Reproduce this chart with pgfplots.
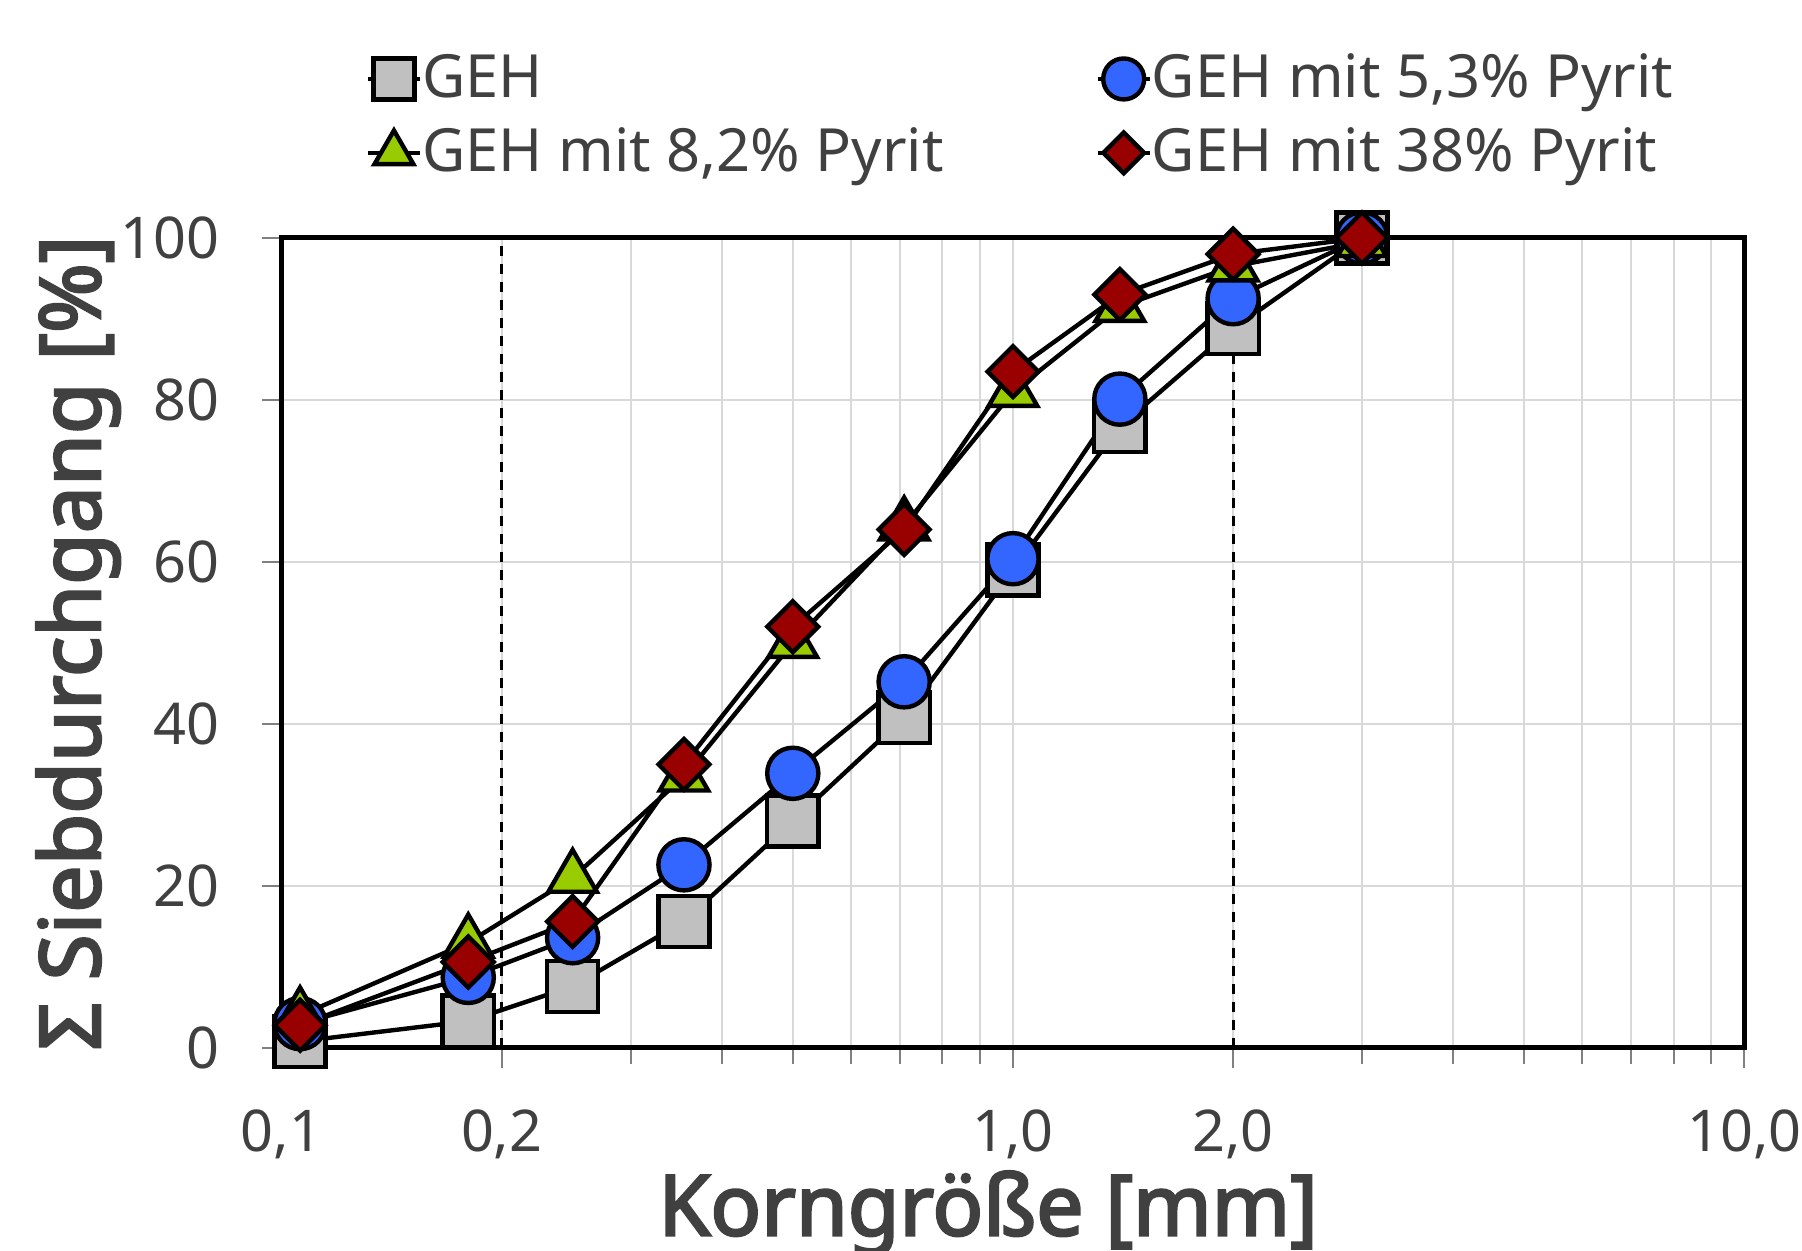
\documentclass[border=0pt]{standalone}
\usepackage{fontspec}
\setmainfont{Noto Sans}
\newfontfamily\lblfont{Noto Sans}[FakeBold=3]
\usepackage{pgfplots}
\pgfplotsset{compat=1.18}
\definecolor{txt}{HTML}{404040}
\definecolor{gehgray}{HTML}{C0C0C0}
\definecolor{gehblue}{HTML}{3366FF}
\definecolor{gehgreen}{HTML}{99CC00}
\definecolor{gehred}{HTML}{990000}
\definecolor{gridc}{HTML}{D9D9D9}
\begin{document}
\begin{tikzpicture}
\begin{axis}[
    name=ax,
    width=365.75pt, height=202.5pt, scale only axis,
    xmode=log, xmin=0.1, xmax=10, ymin=0, ymax=100,
    clip=false,
    axis line style={line width=1.25pt, black},
    xtick={0.1,0.2,1,2,10},
    xticklabels={{0,1},{0,2},{1,0},{2,0},{10,0}},
    minor xtick={0.3,0.4,0.5,0.6,0.7,0.8,0.9,3,4,5,6,7,8,9},
    ytick={0,20,40,60,80,100},
    xmajorgrids, xminorgrids, ymajorgrids,
    grid style={gridc, line width=0.5pt},
    tick align=outside, tick pos=left,
    major tick length=5pt, minor tick length=4pt,
    tick style={gray, line width=0.5pt},
    /pgf/number format/assume math mode=true,
    ticklabel style={font=\fontsize{14.4}{16}\selectfont, text=txt},
    xticklabel shift=7pt,
    yticklabel shift=7pt,
    ylabel={Σ Siebdurchgang [\%]},
    xlabel={Korngröße [mm]},
    every axis y label/.style={at={(axis description cs:-0.139,0.5)}, rotate=90, anchor=center,
        font=\fontsize{21}{25}\lblfont, text=txt},
    every axis x label/.style={at={(axis description cs:0.483,-0.2315)}, anchor=base,
        font=\fontsize{21}{25}\lblfont, text=txt},
    legend columns=2,
    legend cell align=left,
    legend style={draw=none, fill=none, inner sep=0pt, row sep=2pt,
        at={(0.057,1.238)}, anchor=north west,
        font=\fontsize{14.9}{18}\selectfont, text=txt,
        nodes={inner xsep=0pt},
        /tikz/every even column/.append style={column sep=38pt}},
    legend image code/.code={\draw[mark repeat=2,mark phase=2,#1,every mark/.append style={scale=0.8}] plot coordinates {(0pt,0pt) (6.5pt,0pt) (13pt,0pt)};},
]
\addplot[black, line width=0.8pt, dash pattern=on 2.5pt off 2pt, forget plot] coordinates {(0.2,0) (0.2,100)};
\addplot[black, line width=0.8pt, dash pattern=on 2.5pt off 2pt, forget plot] coordinates {(2,0) (2,100)};

\addplot[black, line width=1.1pt, mark=square*, mark size=6.4pt, mark options={fill=gehgray, draw=black, line width=1.1pt}]
coordinates {(0.106,0.8) (0.18,3.3) (0.25,7.6) (0.355,15.6) (0.5,28) (0.71,40.8) (1,59) (1.4,76.7) (2,88.8) (3,100)};
\addlegendentry{GEH}
\addplot[black, line width=1.1pt, mark=*, mark size=6.4pt, mark options={fill=gehblue, draw=black, line width=1.1pt}]
coordinates {(0.106,3) (0.18,8.7) (0.25,13.6) (0.355,22.6) (0.5,33.9) (0.71,45.2) (1,60.4) (1.4,80.1) (2,92.5) (3,100)};
\addlegendentry{GEH mit 5,3\% Pyrit}
\addplot[black, line width=1.1pt, mark=triangle*, mark size=7pt, mark options={fill=gehgreen, draw=black, line width=1.1pt}]
coordinates {(0.106,4) (0.18,13) (0.25,21) (0.355,33.5) (0.5,50) (0.71,64.5) (1,81) (1.4,91.5) (2,96.5) (3,99.5)};
\addlegendentry{GEH mit 8,2\% Pyrit}
\addplot[black, line width=1.1pt, mark=square*, mark size=4.5pt, mark options={fill=gehred, draw=black, line width=1.1pt, rotate=45}]
coordinates {(0.106,2.8) (0.18,10.6) (0.25,15.6) (0.355,35) (0.5,52) (0.71,64) (1,83.5) (1.4,93) (2,98) (3,100)};
\addlegendentry{GEH mit 38\% Pyrit}
\end{axis}
\pgfresetboundingbox
\path ([shift={(-70.4pt,-50.75pt)}]ax.south west) rectangle ([shift={(14.4pt,59.5pt)}]ax.north east);
\end{tikzpicture}
\end{document}
